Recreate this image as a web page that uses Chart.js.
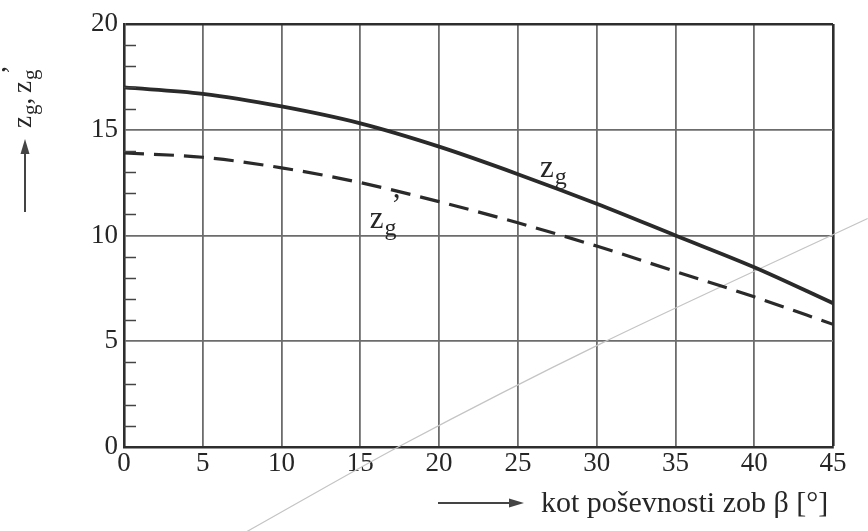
<!DOCTYPE html>
<html><head><meta charset="utf-8">
<script src="https://cdn.jsdelivr.net/npm/chart.js@4.4.1/dist/chart.umd.min.js"></script>
<style>html,body{margin:0;padding:0;background:#fff}canvas{display:block}</style>
</head><body>
<canvas id="c" width="868" height="531"></canvas>
<script>
// ---- data ----
const beta = [0, 5, 10, 15, 20, 25, 30, 35, 40, 45];
const zg = [17.0, 16.7, 16.1, 15.3, 14.2, 12.9, 11.5, 10.0, 8.5, 6.8];
const zgPrime = [13.9, 13.7, 13.2, 12.5, 11.6, 10.6, 9.5, 8.3, 7.1, 5.8];
const xTickValues = [0, 5, 10, 15, 20, 25, 30, 35, 40, 45];
const yTickValues = [0, 5, 10, 15, 20];
const yMinorTicks = [1, 2, 3, 4, 6, 7, 8, 9, 11, 12, 13, 14, 16, 17, 18, 19];
// faint diagonal scan line visible in the reference
const scanX = [7.8, 17.4, 30.3, 47.2];
const scanY = [-4.0, 0.0, 4.9, 10.8];
// label anchors (data coordinates)
const zgLabelAt = [26.4, 12.75];
const zgPrimeLabelAt = [15.6, 10.35];
const xTitleText = 'kot poševnosti zob β [°]';

const SERIF = '"Liberation Serif", "DejaVu Serif", serif';
const INK = '#262626';

function pts(xs, ys) { return xs.map((v, i) => ({x: v, y: ys[i]})); }

function drawSymbol(ctx, px, py, prime, zSize, gSize) {
  ctx.font = zSize + 'px ' + SERIF;
  ctx.fillText('z', px, py);
  const zw = ctx.measureText('z').width;
  ctx.font = gSize + 'px ' + SERIF;
  ctx.fillText('g', px + zw + 1, py + gSize * 0.28);
  const gw = ctx.measureText('g').width;
  let end = px + zw + 1 + gw;
  if (prime) {
    ctx.font = zSize + 'px ' + SERIF;
    ctx.fillText('\u2019', px + zw + 1 + gw * 0.55, py - zSize * 0.42);
    end += 3;
  }
  return end;
}

const annot = {
  id: 'annot',
  afterDraw(chart) {
    const {ctx, scales: {x, y}, chartArea: a} = chart;
    ctx.save();
    // minor ticks on the y axis (inside)
    ctx.strokeStyle = '#444'; ctx.lineWidth = 1.5;
    yMinorTicks.forEach(v => {
      const py = Math.round(y.getPixelForValue(v)) + 0.5;
      ctx.beginPath(); ctx.moveTo(a.left, py); ctx.lineTo(a.left + 12, py); ctx.stroke();
    });
    ctx.fillStyle = INK;
    ctx.textBaseline = 'alphabetic';
    ctx.textAlign = 'left';
    // curve labels
    drawSymbol(ctx, x.getPixelForValue(zgLabelAt[0]), y.getPixelForValue(zgLabelAt[1]), false, 31, 24);
    drawSymbol(ctx, x.getPixelForValue(zgPrimeLabelAt[0]), y.getPixelForValue(zgPrimeLabelAt[1]), true, 31, 24);

    // y axis title (rotated) with arrow
    ctx.save();
    ctx.translate(24, 128);
    ctx.rotate(-Math.PI / 2);
    let cx = 0;
    cx = drawSymbol(ctx, cx, 7, false, 27, 21);
    ctx.font = '27px ' + SERIF;
    ctx.fillText(',', cx, 7);
    cx += ctx.measureText(', ').width - 2;
    drawSymbol(ctx, cx, 7, true, 27, 21);
    ctx.restore();
    ctx.strokeStyle = '#444'; ctx.lineWidth = 2;
    ctx.beginPath(); ctx.moveTo(25, 212); ctx.lineTo(25, 150); ctx.stroke();
    ctx.fillStyle = '#444';
    ctx.beginPath(); ctx.moveTo(25, 139); ctx.lineTo(20.5, 154); ctx.lineTo(29.5, 154); ctx.closePath(); ctx.fill();

    // x axis title with arrow
    ctx.beginPath(); ctx.moveTo(438, 503); ctx.lineTo(512, 503); ctx.stroke();
    ctx.beginPath(); ctx.moveTo(524, 503); ctx.lineTo(509, 498.5); ctx.lineTo(509, 507.5); ctx.closePath(); ctx.fill();
    ctx.fillStyle = INK;
    ctx.font = '30px ' + SERIF;
    ctx.fillText(xTitleText, 541, 512);
    ctx.restore();
  }
};

new Chart(document.getElementById('c'), {
  type: 'line',
  data: {
    datasets: [
      {label: 'scan', data: pts(scanX, scanY), borderColor: '#c4c4c4', borderWidth: 1.2,
       pointRadius: 0, clip: false, tension: 0.3, order: 3},
      {label: 'zg', data: pts(beta, zg), borderColor: '#2a2a2a', borderWidth: 3.8,
       pointRadius: 0, cubicInterpolationMode: 'monotone', order: 1},
      {label: "zg'", data: pts(beta, zgPrime), borderColor: '#2a2a2a', borderWidth: 3.2,
       borderDash: [20, 10], pointRadius: 0, cubicInterpolationMode: 'monotone', order: 2}
    ]
  },
  options: {
    responsive: false, animation: false, events: [],
    layout: {padding: {top: 24, right: 35, left: 0, bottom: 0}},
    plugins: {legend: {display: false}, tooltip: {enabled: false}},
    scales: {
      x: {
        type: 'linear', min: 0, max: 45,
        afterBuildTicks: s => { s.ticks = xTickValues.map(v => ({value: v})); },
        afterFit: s => { s.height = 84; },
        ticks: {font: {family: SERIF, size: 27}, color: INK, padding: 1, maxRotation: 0, autoSkip: false},
        grid: {drawTicks: false,
               color: c => c.tick && c.tick.value === 45 ? '#2e2e2e' : '#6c6c6c',
               lineWidth: c => c.tick && c.tick.value === 45 ? 2.6 : 1.8},
        border: {color: '#2e2e2e', width: 2.6}
      },
      y: {
        min: 0, max: 20,
        afterBuildTicks: s => { s.ticks = yTickValues.map(v => ({value: v})); },
        afterFit: s => { s.width = 124; },
        ticks: {font: {family: SERIF, size: 27}, color: INK, padding: 6},
        grid: {drawTicks: false,
               color: c => c.tick && c.tick.value === 20 ? '#2e2e2e' : '#6c6c6c',
               lineWidth: c => c.tick && c.tick.value === 20 ? 2.6 : 1.8},
        border: {color: '#2e2e2e', width: 2.6}
      }
    }
  },
  plugins: [annot]
});
</script>
</body></html>
